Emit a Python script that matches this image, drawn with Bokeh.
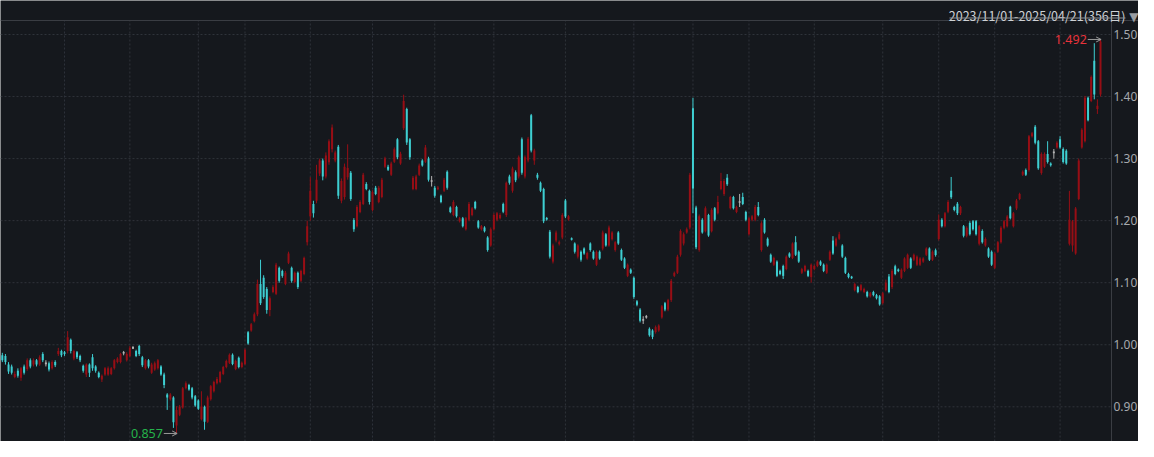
import numpy as np
from bokeh.plotting import figure
from bokeh.models import (Range1d, Span, Label, Arrow, OpenHead, BoxAnnotation)
from bokeh.embed import file_html
from bokeh.resources import INLINE
from bokeh.core.properties import value

# ---------------- data ----------------
title_text = "2023/11/01-2025/04/21(356日)"
y_ticks = [0.90, 1.00, 1.10, 1.20, 1.30, 1.40, 1.50]
month_starts = [22, 43, 65, 80, 101, 121, 141, 160, 183, 205, 224, 242, 263, 285, 303, 321, 342]

opens = [
    .985, .982, .983, .982, .968, .965, .948, .958, .947, .965,
    .961, .975, .968, .975, .968, .985, .970, .970, .962, .972,
    .985, .990, .988, .990, 1.008, .978, .988, .982, .966, .952,
    .968, .980, .965, .955, .944, .952, .952, .953, .962, .972,
    .972, .987, .975, .982, .995, .990, .998, .980, .962, .975,
    .955, .960, .962, .965, .952, .920, .912, .915, .870, .887,
    .899, .930, .935, .930, .917, .910, .880, .900, .876, .912,
    .925, .938, .940, .953, .964, .971, .984, .961, .979, .964,
    .969, 1.020, 1.023, 1.038, 1.049, 1.098, 1.108, 1.090, 1.056, 1.085,
    1.082, 1.124, 1.119, 1.098, 1.132, 1.124, 1.101, 1.116, 1.103, 1.114,
    1.165, 1.207, 1.227, 1.232, 1.276, 1.297, 1.271, 1.294, 1.315, 1.297,
    1.319, 1.232, 1.238, 1.270, 1.277, 1.201, 1.191, 1.214, 1.227, 1.259,
    1.248, 1.217, 1.253, 1.230, 1.238, 1.287, 1.287, 1.274, 1.295, 1.331,
    1.292, 1.349, 1.380, 1.331, 1.251, 1.251, 1.274, 1.297, 1.295, 1.300,
    1.264, 1.253, 1.251, 1.240, 1.248, 1.279, 1.221, 1.209, 1.222, 1.199,
    1.204, 1.186, 1.2015, 1.209, 1.230, 1.199, 1.186, 1.189, 1.173, 1.160,
    1.186, 1.2015, 1.204, 1.227, 1.209, 1.271, 1.248, 1.278, 1.271, 1.331,
    1.271, 1.297, 1.370, 1.297, 1.274, 1.261, 1.251, 1.204, 1.182, 1.134,
    1.168, 1.163, 1.173, 1.2325, 1.202, 1.171, 1.163, 1.142, 1.150, 1.155,
    1.139, 1.163, 1.150, 1.129, 1.150, 1.155, 1.178, 1.160, 1.170, 1.1525,
    1.181, 1.1525, 1.139, 1.111, 1.121, 1.108, 1.070, 1.0567, 1.040, 1.045,
    1.0257, 1.023, 1.0205, 1.023, 1.044, 1.067, 1.0567, 1.072, 1.111, 1.116,
    1.145, 1.163, 1.181, 1.189, 1.381, 1.221, 1.1525, 1.2015, 1.183, 1.209,
    1.183, 1.220, 1.212, 1.251, 1.243, 1.269, 1.220, 1.238, 1.214, 1.230,
    1.238, 1.214, 1.178, 1.2015, 1.2015, 1.222, 1.1525, 1.2015, 1.171, 1.145,
    1.129, 1.134, 1.119, 1.127, 1.122, 1.147, 1.140, 1.165, 1.150, 1.116,
    1.119, 1.119, 1.109, 1.122, 1.127, 1.134, 1.129, 1.116, 1.137, 1.168,
    1.160, 1.171, 1.160, 1.140, 1.114, 1.109, 1.088, 1.093, 1.088, 1.085,
    1.085, 1.078, 1.085, 1.080, 1.078, 1.067, 1.088, 1.110, 1.093, 1.1265,
    1.121, 1.108, 1.119, 1.124, 1.139, 1.137, 1.129, 1.129, 1.134, 1.145,
    1.155, 1.137, 1.1524, 1.1704, 1.2015, 1.191, 1.2145, 1.248, 1.222, 1.2274,
    1.2118, 1.191, 1.1757, 1.1963, 1.199, 1.199, 1.1627, 1.1834, 1.160, 1.155,
    1.150, 1.124, 1.150, 1.1653, 1.1886, 1.191, 1.2222, 1.191, 1.2196, 1.235,
    1.274, 1.2817, 1.2817, 1.336, 1.3515, 1.328, 1.2766, 1.287, 1.3076, 1.292,
    1.310, 1.318, 1.331, 1.3154, 1.3127, 1.1627, 1.160, 1.147, 1.235, 1.318,
    1.328, 1.398, 1.393, 1.4575, 1.380, 1.4032,
]

closes = [
    .978, .975, .975, .972, .957, .955, .953, .950, .962, .955,
    .975, .965, .975, .968, .980, .975, .970, .960, .972, .967,
    .990, .983, .985, 1.012, .990, .990, .980, .975, .958, .968,
    .955, .962, .958, .948, .950, .962, .962, .962, .975, .978,
    .985, .987, .985, .995, .995, .982, .985, .967, .975, .965,
    .968, .970, .975, .952, .935, .915, .920, .875, .895, .900,
    .930, .938, .928, .915, .902, .897, .900, .876, .915, .933,
    .940, .945, .956, .964, .974, .984, .969, .974, .964, .971,
    .992, 1.002, 1.033, 1.049, 1.098, 1.067, 1.077, 1.056, 1.075, 1.093,
    1.129, 1.103, 1.111, 1.116, 1.147, 1.103, 1.116, 1.093, 1.119, 1.140,
    1.191, 1.248, 1.212, 1.266, 1.297, 1.271, 1.305, 1.328, 1.350, 1.310,
    1.240, 1.264, 1.287, 1.285, 1.235, 1.186, 1.222, 1.230, 1.274, 1.251,
    1.230, 1.246, 1.243, 1.253, 1.266, 1.300, 1.282, 1.292, 1.315, 1.302,
    1.308, 1.393, 1.326, 1.302, 1.269, 1.271, 1.289, 1.289, 1.318, 1.266,
    1.264, 1.240, 1.253, 1.230, 1.266, 1.253, 1.214, 1.230, 1.207, 1.204,
    1.191, 1.204, 1.227, 1.220, 1.220, 1.189, 1.191, 1.183, 1.1525, 1.186,
    1.209, 1.212, 1.209, 1.2145, 1.261, 1.261, 1.284, 1.265, 1.302, 1.277,
    1.302, 1.332, 1.313, 1.313, 1.269, 1.248, 1.199, 1.202, 1.142, 1.160,
    1.181, 1.165, 1.209, 1.2067, 1.207, 1.170, 1.150, 1.160, 1.137, 1.147,
    1.148, 1.1525, 1.139, 1.150, 1.139, 1.181, 1.160, 1.189, 1.181, 1.165,
    1.163, 1.137, 1.124, 1.129, 1.116, 1.077, 1.0645, 1.0386, 1.040, 1.045,
    1.0153, 1.0127, 1.0283, 1.031, 1.062, 1.0567, 1.072, 1.103, 1.116, 1.142,
    1.1835, 1.178, 1.186, 1.274, 1.252, 1.157, 1.207, 1.181, 1.220, 1.176,
    1.217, 1.2015, 1.230, 1.264, 1.264, 1.2585, 1.238, 1.220, 1.222, 1.230,
    1.227, 1.2015, 1.204, 1.207, 1.222, 1.209, 1.196, 1.181, 1.160, 1.134,
    1.140, 1.111, 1.114, 1.111, 1.142, 1.142, 1.163, 1.145, 1.134, 1.122,
    1.127, 1.111, 1.129, 1.127, 1.134, 1.129, 1.119, 1.129, 1.150, 1.147,
    1.171, 1.178, 1.142, 1.116, 1.109, 1.108, 1.098, 1.085, 1.096, 1.090,
    1.078, 1.083, 1.080, 1.075, 1.065, 1.083, 1.100, 1.085, 1.119, 1.114,
    1.119, 1.121, 1.139, 1.145, 1.124, 1.145, 1.142, 1.139, 1.139, 1.155,
    1.137, 1.150, 1.1447, 1.2015, 1.191, 1.2118, 1.230, 1.2377, 1.217, 1.2118,
    1.222, 1.1757, 1.1886, 1.178, 1.186, 1.178, 1.191, 1.1653, 1.1704, 1.142,
    1.129, 1.147, 1.1653, 1.1886, 1.199, 1.2067, 1.204, 1.2118, 1.2325, 1.2429,
    1.279, 1.274, 1.336, 1.341, 1.3256, 1.2843, 1.3076, 1.3076, 1.2946, 1.2895,
    1.310, 1.3256, 1.318, 1.2946, 1.292, 1.2015, 1.199, 1.2196, 1.297, 1.3464,
    1.398, 1.362, 1.4317, 1.4032, 1.385, 1.4886,
]

highs = [
    .990, .986, .987, .985, .972, .968, .957, .962, .964, .968,
    .978, .978, .978, .977, .983, .988, .975, .973, .975, .975,
    .995, .992, .990, 1.022, 1.010, .992, .990, .984, .968, .970,
    .970, .985, .967, .957, .952, .964, .965, .964, .977, .980,
    .987, .990, .988, .998, .998, .992, 1.000, .982, .977, .977,
    .971, .973, .977, .967, .955, .922, .922, .917, .901, .903,
    .932, .941, .937, .932, .919, .912, .925, .902, .918, .935,
    .942, .948, .958, .966, .976, .986, .986, .976, .981, .973,
    .994, 1.022, 1.035, 1.052, 1.105, 1.137, 1.112, 1.093, 1.078, 1.096,
    1.132, 1.126, 1.121, 1.119, 1.150, 1.126, 1.118, 1.118, 1.121, 1.142,
    1.200, 1.270, 1.232, 1.290, 1.300, 1.300, 1.310, 1.331, 1.355, 1.313,
    1.322, 1.268, 1.292, 1.323, 1.280, 1.204, 1.225, 1.233, 1.277, 1.262,
    1.250, 1.249, 1.256, 1.256, 1.269, 1.303, 1.290, 1.295, 1.318, 1.333,
    1.311, 1.403, 1.382, 1.333, 1.272, 1.274, 1.292, 1.299, 1.322, 1.303,
    1.272, 1.256, 1.256, 1.242, 1.269, 1.281, 1.223, 1.233, 1.224, 1.206,
    1.206, 1.206, 1.230, 1.222, 1.232, 1.201, 1.193, 1.191, 1.175, 1.189,
    1.212, 1.214, 1.212, 1.229, 1.263, 1.274, 1.287, 1.281, 1.305, 1.334,
    1.305, 1.335, 1.372, 1.316, 1.277, 1.263, 1.253, 1.206, 1.185, 1.163,
    1.184, 1.168, 1.212, 1.235, 1.209, 1.173, 1.165, 1.162, 1.152, 1.157,
    1.150, 1.165, 1.152, 1.152, 1.152, 1.184, 1.180, 1.192, 1.183, 1.167,
    1.183, 1.155, 1.141, 1.131, 1.123, 1.110, 1.072, 1.059, 1.046, 1.048,
    1.028, 1.025, 1.031, 1.033, 1.064, 1.069, 1.074, 1.106, 1.118, 1.145,
    1.186, 1.181, 1.189, 1.277, 1.398, 1.224, 1.210, 1.204, 1.223, 1.211,
    1.220, 1.222, 1.240, 1.277, 1.267, 1.275, 1.240, 1.240, 1.224, 1.243,
    1.245, 1.216, 1.206, 1.209, 1.225, 1.230, 1.199, 1.204, 1.173, 1.147,
    1.142, 1.136, 1.121, 1.129, 1.144, 1.149, 1.165, 1.175, 1.152, 1.124,
    1.129, 1.121, 1.131, 1.129, 1.136, 1.136, 1.131, 1.131, 1.152, 1.175,
    1.173, 1.182, 1.162, 1.142, 1.116, 1.111, 1.100, 1.095, 1.098, 1.092,
    1.087, 1.085, 1.087, 1.082, 1.080, 1.085, 1.105, 1.114, 1.122, 1.129,
    1.123, 1.123, 1.141, 1.147, 1.141, 1.147, 1.144, 1.141, 1.141, 1.157,
    1.157, 1.152, 1.155, 1.210, 1.204, 1.214, 1.233, 1.2704, 1.224, 1.230,
    1.224, 1.193, 1.191, 1.199, 1.201, 1.201, 1.193, 1.186, 1.173, 1.157,
    1.152, 1.149, 1.167, 1.191, 1.201, 1.209, 1.224, 1.214, 1.235, 1.245,
    1.281, 1.284, 1.338, 1.343, 1.354, 1.330, 1.310, 1.310, 1.328, 1.294,
    1.3154, 1.328, 1.336, 1.318, 1.315, 1.248, 1.201, 1.222, 1.300, 1.349,
    1.401, 1.400, 1.434, 1.486, 1.3955, 1.492,
]

lows = [
    .975, .972, .972, .968, .953, .952, .946, .947, .942, .952,
    .958, .962, .965, .965, .966, .972, .965, .957, .960, .964,
    .982, .980, .982, .986, .986, .975, .977, .972, .955, .948,
    .948, .958, .955, .946, .940, .950, .950, .951, .960, .970,
    .970, .983, .973, .980, .993, .980, .982, .964, .960, .962,
    .953, .958, .960, .950, .930, .895, .910, .866, .857, .885,
    .897, .928, .926, .912, .900, .895, .878, .863, .874, .910,
    .923, .936, .938, .951, .962, .969, .967, .959, .962, .962,
    .967, 1.000, 1.021, 1.036, 1.046, 1.064, 1.074, 1.050, 1.046, 1.083,
    1.080, 1.100, 1.108, 1.096, 1.130, 1.100, 1.099, 1.090, 1.101, 1.112,
    1.160, 1.200, 1.205, 1.228, 1.272, 1.265, 1.268, 1.290, 1.310, 1.294,
    1.235, 1.228, 1.234, 1.266, 1.232, 1.182, 1.189, 1.212, 1.225, 1.249,
    1.226, 1.215, 1.241, 1.228, 1.236, 1.285, 1.280, 1.272, 1.293, 1.299,
    1.290, 1.346, 1.322, 1.298, 1.249, 1.249, 1.272, 1.287, 1.293, 1.263,
    1.255, 1.237, 1.249, 1.228, 1.246, 1.250, 1.212, 1.207, 1.205, 1.197,
    1.189, 1.184, 1.199, 1.207, 1.218, 1.187, 1.184, 1.181, 1.150, 1.158,
    1.184, 1.199, 1.202, 1.212, 1.206, 1.258, 1.245, 1.262, 1.268, 1.274,
    1.268, 1.294, 1.310, 1.290, 1.266, 1.246, 1.196, 1.200, 1.139, 1.131,
    1.165, 1.160, 1.170, 1.204, 1.200, 1.168, 1.147, 1.139, 1.134, 1.145,
    1.137, 1.150, 1.137, 1.127, 1.137, 1.152, 1.158, 1.158, 1.168, 1.150,
    1.161, 1.135, 1.122, 1.109, 1.114, 1.074, 1.062, 1.036, 1.0335, 1.042,
    1.013, 1.009, 1.018, 1.021, 1.042, 1.054, 1.054, 1.069, 1.109, 1.114,
    1.142, 1.160, 1.179, 1.186, 1.212, 1.154, 1.150, 1.179, 1.181, 1.174,
    1.181, 1.199, 1.210, 1.249, 1.240, 1.256, 1.218, 1.218, 1.212, 1.222,
    1.225, 1.199, 1.176, 1.199, 1.199, 1.207, 1.150, 1.179, 1.158, 1.132,
    1.127, 1.109, 1.112, 1.106, 1.120, 1.140, 1.138, 1.143, 1.132, 1.114,
    1.117, 1.109, 1.100, 1.120, 1.125, 1.127, 1.117, 1.114, 1.135, 1.145,
    1.158, 1.169, 1.140, 1.114, 1.107, 1.106, 1.086, 1.083, 1.086, 1.083,
    1.076, 1.076, 1.078, 1.073, 1.063, 1.065, 1.086, 1.083, 1.090, 1.112,
    1.117, 1.106, 1.117, 1.122, 1.122, 1.135, 1.127, 1.127, 1.132, 1.143,
    1.135, 1.135, 1.142, 1.168, 1.189, 1.189, 1.212, 1.235, 1.215, 1.209,
    1.209, 1.173, 1.173, 1.176, 1.184, 1.176, 1.160, 1.163, 1.158, 1.140,
    1.127, 1.122, 1.148, 1.163, 1.186, 1.189, 1.202, 1.189, 1.217, 1.233,
    1.272, 1.272, 1.279, 1.334, 1.323, 1.282, 1.274, 1.285, 1.292, 1.287,
    1.300, 1.316, 1.316, 1.292, 1.290, 1.160, 1.150, 1.145, 1.233, 1.316,
    1.326, 1.360, 1.391, 1.3955, 1.372, 1.400,
]

# ---------------- style / layout ----------------
BG = "#15181d"
UP = "#970e15"
DOWN = "#3ecfd2"
FLAT = "#b4b4b4"
GRID = "#2f333a"
AXIS = "#3a3d43"
LABEL = "#a6a9ae"
HI_RED = "#e8333b"
LO_GREEN = "#25b34b"
ARROW_C = "#9a9a9a"
FONT = "Noto Sans"

W, H = 1138, 441
PX_PER_SLOT = 3.111
X0 = 1.414
X1 = X0 + W / PX_PER_SLOT
PPU = 620.5                            # pixels per price unit
Y1 = 1.50 + 34.0 / PPU
Y0 = Y1 - H / PPU
header_y = Y1 - 20.0 / PPU             # header separator line
axis_x = X0 + 1111 / PX_PER_SLOT       # position of the price-axis line

o = np.array(opens, dtype=float)
c = np.array(closes, dtype=float)
h = np.array(highs, dtype=float)
l = np.array(lows, dtype=float)
n = len(c)
idx = np.arange(n)
colors = [UP if cc > oo else (DOWN if cc < oo else FLAT) for oo, cc in zip(o, c)]

p = figure(width=W, height=H, output_backend="svg", toolbar_location=None,
           x_range=Range1d(X0, X1), y_range=Range1d(Y0, Y1),
           x_axis_location=None, y_axis_location=None,
           background_fill_color=BG, border_fill_color=BG,
           min_border_left=0, min_border_top=0, min_border_bottom=0, min_border_right=0)
p.outline_line_color = None
p.grid.visible = False

# horizontal dotted grid (stops at the price axis)
yt = np.array(y_ticks, dtype=float)
p.segment(x0=[X0] * len(yt), y0=yt, x1=[axis_x] * len(yt), y1=yt,
          line_color=GRID, line_dash="2 2", line_width=1)
# vertical dotted month lines
ms = np.array(month_starts, dtype=float)
p.segment(x0=ms, y0=[Y0] * len(ms), x1=ms, y1=[header_y] * len(ms),
          line_color=GRID, line_dash="2 2", line_width=1)

# header separator and price axis line
p.add_layout(Span(location=header_y, dimension="width", line_color=AXIS, line_width=1))
p.segment(x0=[axis_x], y0=[Y0], x1=[axis_x], y1=[header_y], line_color=AXIS, line_width=1)

# price labels on the right
p.text(x=[axis_x] * len(yt), y=yt, text=[f"{t:.2f}" for t in y_ticks],
       x_offset=2, text_align="left", text_baseline="middle",
       text_color=LABEL, text_font_size="12px", text_font=value(FONT))

# candles
p.segment(x0=idx, y0=l, x1=idx, y1=h, line_color=colors, line_width=1)
body_h = np.maximum(np.abs(c - o), 1.6 / PPU)
p.rect(x=idx, y=(o + c) / 2, width=0.64, height=body_h,
       fill_color=colors, line_color=None)

# max / min annotations
i_hi = int(np.argmax(h))
i_lo = int(np.argmin(l))
p.text(x=[i_hi - 4.4], y=[h[i_hi]], text=[f"{h[i_hi]:.3f}"], text_align="right",
       text_baseline="middle", text_color=HI_RED, text_font_size="12.5px",
       text_font=value(FONT))
p.add_layout(Arrow(end=OpenHead(size=5, line_color=ARROW_C, line_width=1),
                   x_start=i_hi - 4.1, y_start=h[i_hi], x_end=i_hi + 0.2, y_end=h[i_hi],
                   line_color=ARROW_C, line_width=1))
p.text(x=[i_lo - 4.4], y=[l[i_lo]], text=[f"{l[i_lo]:.3f}"], text_align="right",
       text_baseline="middle", text_color=LO_GREEN, text_font_size="12.5px",
       text_font=value(FONT))
p.add_layout(Arrow(end=OpenHead(size=5, line_color=ARROW_C, line_width=1),
                   x_start=i_lo - 4.1, y_start=l[i_lo], x_end=i_lo + 0.2,
                   y_end=l[i_lo], line_color=ARROW_C, line_width=1))

# header: date range with underline and dropdown triangle
p.add_layout(Label(x=1125, y=H - 15, x_units="screen", y_units="screen",
                   text=title_text, text_align="right", text_baseline="alphabetic",
                   text_color="#cfd2d6", text_font_size="12.5px",
                   text_font="Noto Sans CJK SC"))
p.add_layout(BoxAnnotation(left=949, right=1125, bottom=H - 18.0, top=H - 17.0,
                           left_units="screen", right_units="screen",
                           bottom_units="screen", top_units="screen",
                           fill_color="#8e9196", fill_alpha=1.0, line_color=None))
p.add_layout(Label(x=1138, y=H - 16, x_units="screen", y_units="screen",
                   text="▼", text_align="right", text_baseline="alphabetic",
                   text_color="#9a9da2", text_font_size="12px", text_font="DejaVu Sans"))

open("out.html", "w").write(file_html(p, INLINE))
